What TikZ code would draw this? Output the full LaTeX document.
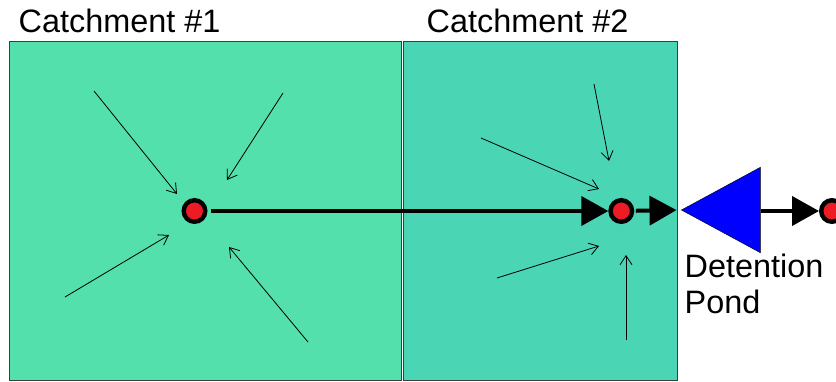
\documentclass[tikz,border=0pt]{standalone}
\usepackage{fontspec}
\setmainfont{Liberation Sans}
\usetikzlibrary{arrows.meta,shapes.geometric}
\definecolor{catchA}{HTML}{53E0AC}
\definecolor{catchB}{HTML}{4AD6B4}
\definecolor{edge}{HTML}{3C3C3C}
\definecolor{outlet}{HTML}{ED1C24}
\definecolor{pond}{HTML}{0000FF}
\tikzset{
  catchbox/.style={draw=edge,line width=1.2pt,inner sep=0pt,minimum height=339.5pt},
  outletdot/.style={circle,draw=black,line width=4.4pt,fill=outlet,minimum size=21.6pt,inner sep=0pt},
  pondshape/.style={isosceles triangle,isosceles triangle apex angle=57,isosceles triangle stretches,
    shape border rotate=180,draw=black,line width=0.4pt,fill=pond,minimum width=85.5pt,minimum height=79pt,inner sep=0pt},
  flow/.style={line width=4pt,-{Triangle[length=27pt,width=29pt]}},
  runoff/.style={line width=0.8pt,-{Straight Barb[length=9pt,width=12pt,line width=0.8pt]}},
  label/.style={font=\fontsize{32.4}{36}\selectfont,inner sep=0pt,anchor=base west}
}

\begin{document}
\begin{tikzpicture}[x=1pt,y=-1pt]
\useasboundingbox (0,0) rectangle (836,381);
\node[catchbox,fill=catchA,minimum width=392.5pt,anchor=north west] (catch1) at (8.5,40.5) {};
\node[catchbox,fill=catchB,minimum width=274pt,anchor=north west] (catch2) at (403,40.5) {};
\node[label] (name1) at (18.5,32) {Catchment \#1};
\node[label] (name2) at (426.5,32) {Catchment \#2};
\node[label] (pondname1) at (684.5,277) {Detention};
\node[label] (pondname2) at (684.5,313) {Pond};
% overland flow
\foreach \xa/\ya/\xb/\yb in {94/91/177/194,283/93/227/180,65/297/169/235,308/342/229/247,
  594/84/609/161,481/138/599/189,497/278/599/246,626/340/626/255}{
  \draw[runoff] (\xa,\ya) -- (\xb,\yb);
}
\node[outletdot] (out1) at (194.5,211) {};
\node[outletdot] (out2) at (621.3,211) {};
\node[outletdot] (out3) at (832,211) {};
\node[pondshape,anchor=apex] (basin) at (681,210) {};
% routed flow
\draw[flow,shorten <=3.5pt] (out1) -- (out2);
\draw[flow,shorten <=1.5pt,shorten >=4.5pt] (out2) -- (basin.apex);
\draw[flow] (basin.east|-out3) -- (out3);
\end{tikzpicture}
\end{document}
